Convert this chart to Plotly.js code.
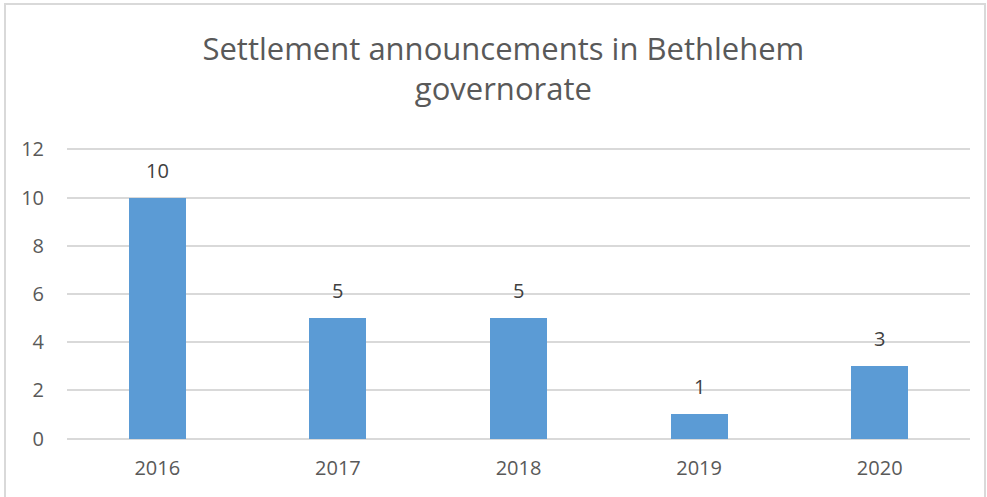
<!DOCTYPE html>
<html>
<head>
<meta charset="utf-8">
<script src="https://cdn.plot.ly/plotly-3.0.1.min.js"></script>
<style>
html,body{margin:0;padding:0;background:#fff;}
#wrap{position:relative;width:987px;height:497px;overflow:hidden;}
#chart{position:absolute;left:0;top:0;width:987px;height:497px;}
#frame{position:absolute;left:4px;top:3px;width:978px;height:510px;border:2px solid #d9d9d9;pointer-events:none;}
</style>
</head>
<body>
<div id="wrap"><div id="chart"></div><div id="frame"></div></div>
<script>
const years = ['2016', '2017', '2018', '2019', '2020'];
const announcements = [10, 5, 5, 1, 3];
const titleText = 'Settlement announcements in Bethlehem<br>governorate';
const yTicks = [0, 2, 4, 6, 8, 10, 12];

const FONT = '"Open Sans", "Noto Sans", sans-serif';

const trace = {
  type: 'bar',
  x: years,
  y: announcements,
  marker: {color: '#5b9bd5'},
  width: 0.315,
  hoverinfo: 'skip'
};

const annotations = years.map((yr, i) => ({
  x: i, y: announcements[i], xref: 'x', yref: 'y',
  text: String(announcements[i]),
  showarrow: false, yanchor: 'bottom', yshift: 12,
  font: {family: FONT, size: 20, color: '#404040'}
}));

const layout = {
  width: 987, height: 497,
  margin: {l: 67, r: 17, t: 148, b: 57},
  paper_bgcolor: '#ffffff', plot_bgcolor: '#ffffff',
  showlegend: false,
  title: {
    text: titleText,
    x: 0.51, xanchor: 'center',
    y: 0.88, yanchor: 'top', yref: 'container',
    font: {family: FONT, size: 31, color: '#595959'}
  },
  xaxis: {
    type: 'category',
    range: [-0.5, 4.5],
    showgrid: false, zeroline: false, showline: false,
    ticks: 'outside', ticklen: 10, tickcolor: 'rgba(0,0,0,0)',
    tickfont: {family: FONT, size: 20, color: '#595959'}
  },
  yaxis: {
    range: [-0.06, 12.06],
    tickvals: yTicks,
    ticktext: yTicks.map(String),
    showgrid: true, gridcolor: '#d9d9d9', gridwidth: 2,
    zeroline: false, showline: false,
    ticks: 'outside', ticklen: 18, tickcolor: 'rgba(0,0,0,0)',
    tickfont: {family: FONT, size: 20, color: '#595959'}
  },
  annotations: annotations,
  bargap: 0
};

Plotly.newPlot('chart', [trace], layout, {displayModeBar: false, staticPlot: true});
</script>
</body>
</html>
